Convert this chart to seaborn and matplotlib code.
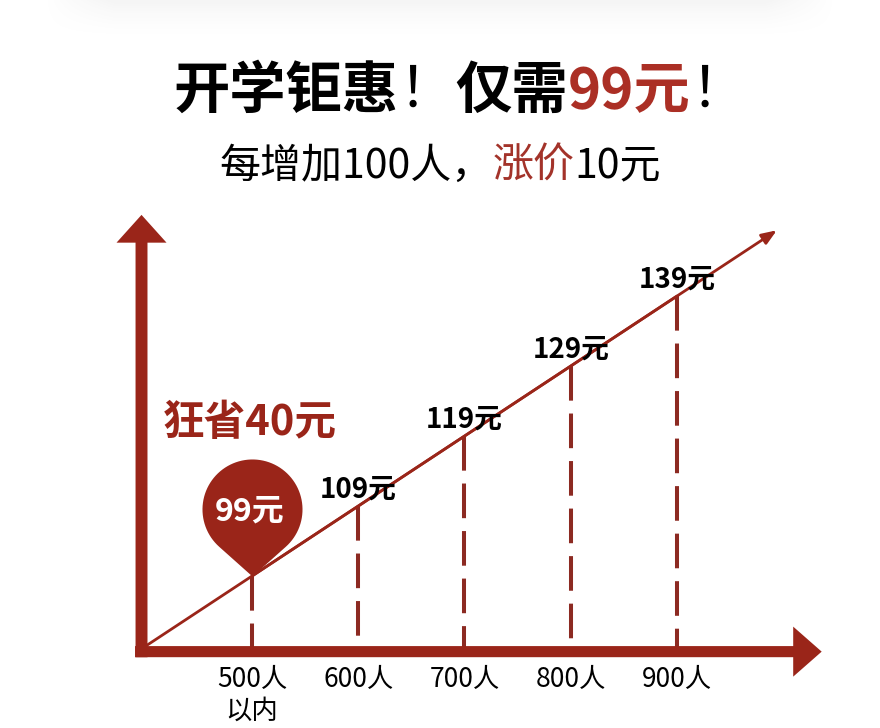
import numpy as np
import matplotlib
matplotlib.use('Agg')
import matplotlib.pyplot as plt
import pandas as pd
import seaborn as sns
from matplotlib.path import Path
from matplotlib.markers import MarkerStyle

# chart values
headcounts = ['500人\n以内', '600人', '700人', '800人', '900人']
prices = [99, 109, 119, 129, 139]
price_labels = ['99元', '109元', '119元', '129元', '139元']
positions = [0, 1, 2, 3, 4]

# (text, colour, weight)
title_parts = [('开学钜惠', 'black', 'heavy'), ('！', 'black', 'light'),
               ('仅需', 'black', 'heavy'), ('99元', '#ab2f25', 'heavy'),
               ('！', 'black', 'light')]
subtitle_parts = [('每增加100人，', 'black', 'normal'), ('涨价', '#a3332a', 'normal'),
                  ('10元', 'black', 'normal')]
saving_text = '狂省40元'

RED = '#9a2519'
DASH_RED = '#8c2a22'
CJK = ['Noto Sans CJK SC', 'DejaVu Sans']

sns.set_theme(style='white')
plt.rcParams['font.family'] = CJK

W, H = 880, 728
fig = plt.figure(figsize=(W / 100, H / 100), dpi=100)
fig.patch.set_facecolor('white')

# faint grey shadow at the very top
bg = fig.add_axes([0, 1 - 40 / H, 1, 40 / H], zorder=0)
yy = np.linspace(0, 1, 40)[:, None]
xx = np.linspace(0, 1, W)[None, :]
alpha = 0.09 * (1 - yy) ** 1.6 * np.clip(np.minimum(xx - 0.05, 0.95 - xx) / 0.08, 0, 1)
rgba = np.zeros((40, W, 4))
rgba[..., :3] = 0.55
rgba[..., 3] = alpha
bg.imshow(rgba, aspect='auto', interpolation='bilinear')
bg.axis('off')

ax = fig.add_axes([0, 0, 1, 1], zorder=1)
ax.patch.set_alpha(0)

df = pd.DataFrame({'pos': positions, 'price': prices})
step = prices[1] - prices[0]
axis_y = prices[0] - 10.8   # level of the horizontal axis bar
axis_x = positions[0] - 1.04

# price line through the points, extended to origin and an arrow tip
sns.lineplot(data=df, x='pos', y='price', color=RED, lw=2, ax=ax, zorder=3)
origin = (positions[0] - 1, prices[0] - step)
tip = (positions[-1] + 0.94, prices[-1] + 0.94 * step)
ax.annotate('', xy=tip, xytext=origin,
            arrowprops=dict(arrowstyle='-|>,head_length=9,head_width=3.5',
                            mutation_scale=1, lw=2, color=RED,
                            shrinkA=0, shrinkB=0), zorder=3)

# dashed drop lines
ax.vlines(positions, prices, axis_y, colors=DASH_RED, lw=2.9,
          linestyles=[(0, (8.6, 3.2))], zorder=2)

# thick axis arrows
ax.annotate('', xy=(5.362, axis_y), xytext=(-1.101, axis_y),
            arrowprops=dict(arrowstyle='simple,head_length=20.5,head_width=36,tail_width=8',
                            mutation_scale=1, fc=RED, ec='none', lw=0,
                            shrinkA=0, shrinkB=0), zorder=2)
ax.annotate('', xy=(axis_x, 150.6), xytext=(axis_x, 87.4),
            arrowprops=dict(arrowstyle='simple,head_length=20,head_width=36,tail_width=8.6',
                            mutation_scale=1, fc=RED, ec='none', lw=0,
                            shrinkA=0, shrinkB=0), zorder=2)

# map pin on the first price
d = 1.34
phi = np.degrees(np.arccos(1 / d))
ang = np.radians(np.linspace(-90 + phi, 270 - phi, 80))
verts = [(0, 0)] + list(zip(np.cos(ang), d + np.sin(ang))) + [(0, 0)]
codes = [Path.MOVETO] + [Path.LINETO] * (len(verts) - 2) + [Path.CLOSEPOLY]
pin = MarkerStyle(Path(verts, codes))
ax.plot(positions[0], prices[0], marker=pin, ms=168.5, color=RED, mew=0, zorder=4)
ax.annotate(price_labels[0], xy=(positions[0], prices[0]), xytext=(-1.4, 46.5),
            textcoords='offset points', ha='center', va='center', color='white',
            fontsize=23, fontweight='bold', zorder=5)

ax.annotate(saving_text, xy=(positions[0], prices[0]), xytext=(-64, 110),
            textcoords='offset points', ha='left', va='center', color=RED,
            fontsize=30, fontweight='bold', zorder=5)

# price labels
for x, p, lab in zip(positions[1:], prices[1:], price_labels[1:]):
    ax.annotate(lab, xy=(x, p), xytext=(0, 12), textcoords='offset points',
                ha='center', va='center', color='black', fontsize=20,
                fontweight='bold', zorder=5)

# headcount labels under the axis
for x, lab in zip(positions, headcounts):
    for k, line in enumerate(lab.split('\n')):
        ax.annotate(line, xy=(x, axis_y), xytext=(0, -20.4 - 22.3 * k),
                    textcoords='offset points', ha='center', va='center',
                    color='black', fontsize=19)

ax.set_xlim(-2.372, 5.911)
ax.set_ylim(77.29, 181.3)
ax.axis('off')


def rich_text(cx, cy, parts, size):
    renderer = fig.canvas.get_renderer()
    texts = [fig.text(0, cy, s, color=c, fontweight=wt, fontsize=size,
                      ha='left', va='center') for s, c, wt in parts]
    widths = [t.get_window_extent(renderer).width for t in texts]
    x0 = cx * W - sum(widths) / 2
    for t, w in zip(texts, widths):
        t.set_x(x0 / W)
        x0 += w


rich_text(460 / W, 1 - 91 / H, title_parts, 40.5)
rich_text(440 / W, 1 - 166 / H, subtitle_parts, 29.5)

fig.savefig('out.png', dpi=100)
